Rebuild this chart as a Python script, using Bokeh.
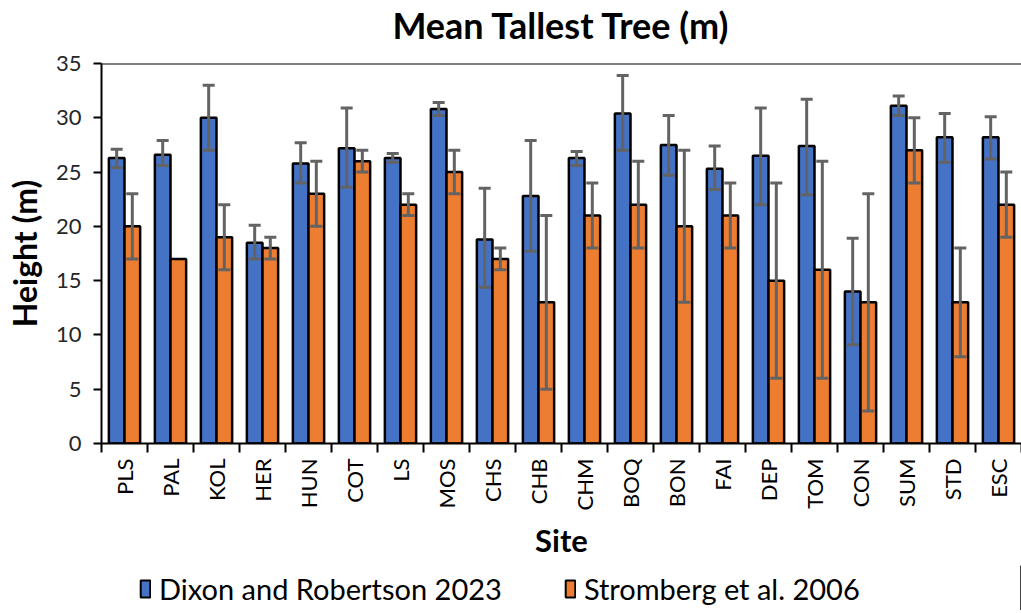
import math
from bokeh.plotting import figure
from bokeh.layouts import column
from bokeh.models import (ColumnDataSource, Whisker, FixedTicker, Span, Legend,
                          LegendItem, Range1d, TeeHead, Label)
from bokeh.embed import file_html
from bokeh.resources import INLINE

sites = ["PLS", "PAL", "KOL", "HER", "HUN", "COT", "LS", "MOS", "CHS", "CHB",
         "CHM", "BOQ", "BON", "FAI", "DEP", "TOM", "CON", "SUM", "STD", "ESC"]
dixon = [26.3, 26.6, 30.0, 18.5, 25.8, 27.2, 26.3, 30.8, 18.8, 22.8,
         26.3, 30.4, 27.5, 25.3, 26.5, 27.4, 14.0, 31.1, 28.2, 28.2]
dixon_lo = [25.4, 25.6, 27.0, 17.0, 24.0, 23.6, 25.9, 30.2, 14.4, 17.7,
            25.6, 27.0, 24.7, 23.4, 22.0, 22.9, 9.1, 30.2, 25.9, 26.2]
dixon_hi = [27.1, 27.9, 33.0, 20.1, 27.7, 30.9, 26.7, 31.4, 23.5, 27.9,
            26.9, 33.9, 30.2, 27.4, 30.9, 31.7, 18.9, 32.0, 30.4, 30.1]
strom = [20, 17, 19, 18, 23, 26, 22, 25, 17, 13,
         21, 22, 20, 21, 15, 16, 13, 27, 13, 22]
strom_lo = [17, None, 16, 17, 20, 25, 21, 23, 16, 5,
            18, 18, 13, 18, 6, 6, 3, 24, 8, 19]
strom_hi = [23, None, 22, 19, 26, 27, 23, 27, 18, 21,
            24, 26, 27, 24, 24, 26, 23, 30, 18, 25]
y_ticks = [0, 5, 10, 15, 20, 25, 30, 35]
series_names = ["Dixon and Robertson 2023", "Stromberg et al. 2006"]
title_text = "Mean Tallest Tree (m)"

BLUE = "#4472C4"
ORANGE = "#ED7D31"
ERR = "#636363"
BW = 0.34
FONT = "Lato"

n = len(sites)
centers = [i + 0.5 for i in range(n)]
xb = [c - BW / 2 for c in centers]
xo = [c + BW / 2 for c in centers]

# ---- title strip ----
pt = figure(width=1021, height=49, x_range=Range1d(0, 1), y_range=Range1d(0, 49),
            output_backend="svg", toolbar_location=None, min_border=0)
pt.axis.visible = False
pt.grid.visible = False
pt.outline_line_color = None
pt.add_layout(Label(x=0.5, y=25, y_units="screen", text=title_text,
                    text_align="center", text_baseline="alphabetic",
                    text_font=FONT, text_font_size="36px", text_font_style="bold",
                    text_color="black"))

# ---- main chart ----
p = figure(width=1021, height=516, x_range=Range1d(0, n), y_range=Range1d(0, 35),
           output_backend="svg", toolbar_location=None,
           min_border_left=101, min_border_right=0, min_border_top=14,
           min_border_bottom=122)
p.outline_line_color = None
p.xgrid.grid_line_color = None
p.ygrid.grid_line_color = None

src_b = ColumnDataSource(dict(x=xb, top=dixon))
src_o = ColumnDataSource(dict(x=xo, top=strom))
p.vbar(x="x", top="top", bottom=0, width=BW, source=src_b,
       fill_color=BLUE, line_color="black", line_width=2.5)
p.vbar(x="x", top="top", bottom=0, width=BW, source=src_o,
       fill_color=ORANGE, line_color="black", line_width=2.5)

eb = ColumnDataSource(dict(x=xb, lo=dixon_lo, hi=dixon_hi))
ox, olo, ohi = [], [], []
for x, lo, hi in zip(xo, strom_lo, strom_hi):
    if lo is not None and hi is not None:
        ox.append(x); olo.append(lo); ohi.append(hi)
eo = ColumnDataSource(dict(x=ox, lo=olo, hi=ohi))
for s in (eb, eo):
    w = Whisker(source=s, base="x", upper="hi", lower="lo",
                line_color=ERR, line_width=3, level="overlay",
                upper_head=TeeHead(size=12, line_color=ERR, line_width=3),
                lower_head=TeeHead(size=12, line_color=ERR, line_width=3))
    p.add_layout(w)

p.add_layout(Span(location=35, dimension="width", line_color="black", line_width=2))

# x axis
xa = p.xaxis[0]
xa.ticker = FixedTicker(ticks=centers, minor_ticks=list(range(n + 1)))
xa.major_label_overrides = {c: s for c, s in zip(centers, sites)}
xa.major_label_orientation = math.pi / 2
xa.major_tick_line_color = None
xa.major_tick_out = 9
xa.major_tick_in = 0
xa.minor_tick_line_color = "black"
xa.minor_tick_line_width = 2
xa.minor_tick_out = 9
xa.minor_tick_in = 0
xa.axis_line_color = "black"
xa.axis_line_width = 2
xa.major_label_text_font = FONT
xa.major_label_text_font_size = "22px"
xa.major_label_text_color = "black"
xa.major_label_standoff = 6
xa.axis_label = "Site"
xa.axis_label_text_font = FONT
xa.axis_label_text_font_size = "31px"
xa.axis_label_text_font_style = "bold"
xa.axis_label_text_color = "black"
xa.axis_label_standoff = 8

# y axis
ya = p.yaxis[0]
ya.ticker = FixedTicker(ticks=y_ticks)
ya.minor_tick_line_color = None
ya.major_tick_out = 8
ya.major_tick_in = 0
ya.major_tick_line_width = 2
ya.axis_line_width = 2
ya.axis_line_color = "black"
ya.major_label_text_font = FONT
ya.major_label_text_font_size = "22px"
ya.major_label_text_color = "#262626"
ya.major_label_standoff = 12
ya.axis_label = "Height (m)"
ya.axis_label_text_font = FONT
ya.axis_label_text_font_size = "32px"
ya.axis_label_text_font_style = "bold"
ya.axis_label_text_color = "black"
ya.axis_label_standoff = 9

# ---- legend strip ----
pl = figure(width=1021, height=45, x_range=Range1d(0, 1), y_range=Range1d(0, 1),
            output_backend="svg", toolbar_location=None, min_border=0)
pl.axis.visible = False
pl.grid.visible = False
pl.outline_line_color = None
# off-range proxies so the legend has glyphs to draw
lb = pl.vbar(x=[5], top=[1], width=0.1, fill_color=BLUE, line_color="black", line_width=2)
lo_ = pl.vbar(x=[5], top=[1], width=0.1, fill_color=ORANGE, line_color="black", line_width=2)
legend = Legend(items=[LegendItem(label=series_names[0], renderers=[lb]),
                       LegendItem(label=series_names[1], renderers=[lo_])],
                orientation="horizontal", location=(38, 4),
                border_line_color=None, background_fill_alpha=0,
                label_text_font=FONT, label_text_font_size="29px",
                label_text_color="black", glyph_width=12, glyph_height=21,
                spacing=62, padding=2, margin=0, label_standoff=8)
pl.add_layout(legend)

open("out.html", "w").write(file_html(column(pt, p, pl, spacing=0), INLINE))
